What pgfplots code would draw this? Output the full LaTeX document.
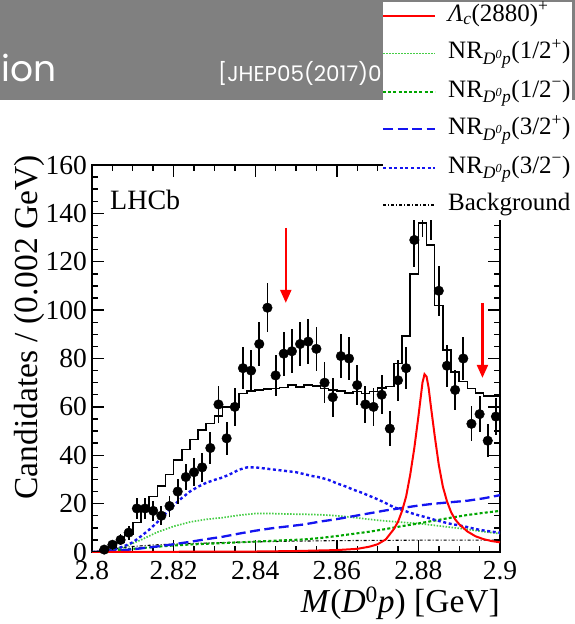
\documentclass[border=0pt]{standalone}
\usepackage{fontspec}
\setmainfont{Liberation Serif}
\newfontfamily\tnr{Liberation Serif}
\newfontfamily\poppins{Poppins}
\usepackage{pgfplots}
\pgfplotsset{compat=1.18}
\usepackage{pgfplotstable}
\usetikzlibrary{arrows.meta}

\definecolor{lgreen}{RGB}{70,205,70}
\definecolor{dgreen}{RGB}{0,165,0}
\definecolor{nblue}{RGB}{20,20,240}
\definecolor{slidegray}{RGB}{128,128,128}

\tikzset{
 lcstyle/.style={red, line width=2pt},
 nrAp/.style={lgreen, line width=1.7pt, dash pattern=on 1.5pt off 1.5pt},
 nrAm/.style={dgreen, line width=2.1pt, dash pattern=on 3pt off 2.2pt},
 nrBp/.style={nblue, line width=2.3pt, dash pattern=on 10pt off 4.5pt},
 nrBm/.style={nblue, line width=2.4pt, dash pattern=on 3pt off 2.6pt},
 bkg/.style={black, line width=1.1pt, dash pattern=on 3pt off 2pt on 1pt off 2pt},
}

% data points: bin centre, candidates, error
\pgfplotstableread{
x y e
2.803 1 1.00
2.805 3 1.73
2.807 5 2.24
2.809 8 2.83
2.811 18 4.24
2.813 18 4.24
2.815 17 4.12
2.817 15 3.87
2.819 19 4.36
2.821 25 5.00
2.823 31 5.57
2.825 33 5.74
2.827 35 5.92
2.829 43 6.56
2.831 61 7.81
2.833 47 6.86
2.835 60 7.75
2.837 76 8.72
2.839 75 8.66
2.841 86 9.27
2.843 101 10.05
2.845 73 8.54
2.847 82 9.06
2.849 83 9.11
2.851 86 9.27
2.853 87 9.33
2.855 84 9.17
2.857 70 8.37
2.859 64 8.00
2.861 81 9.00
2.863 80 8.94
2.865 69 8.31
2.867 61 7.81
2.869 60 7.75
2.871 65 8.06
2.873 51 7.14
2.875 71 8.43
2.877 76 8.72
2.879 129 11.36
2.881 142 11.92
2.883 141 11.87
2.885 108 10.39
2.887 77 8.77
2.889 67 8.19
2.891 80 8.94
2.893 53 7.28
2.895 57 7.55
2.897 46 6.78
2.899 56 7.48
}\datatable

% total fit histogram: bin left edge, value
\pgfplotstableread{
x y
2.800 0.2
2.802 0.8
2.804 2.0
2.806 4.0
2.808 7.5
2.810 12.3
2.812 17.4
2.814 22.9
2.816 27.3
2.818 32.1
2.820 38.0
2.822 42.4
2.824 46.5
2.826 50.4
2.828 53.2
2.830 56.2
2.832 60.0
2.834 60.0
2.836 65.6
2.838 66.5
2.840 67.0
2.842 67.4
2.844 67.6
2.846 68.0
2.848 69.0
2.850 68.2
2.852 69.0
2.854 68.6
2.856 67.6
2.858 67.0
2.860 66.5
2.862 65.8
2.864 66.3
2.866 65.6
2.868 66.4
2.870 67.8
2.872 68.5
2.874 78.0
2.876 89.3
2.878 114.9
2.880 136.0
2.882 127.0
2.884 102.0
2.886 83.5
2.888 74.5
2.890 70.4
2.892 67.6
2.894 65.8
2.896 64.5
2.898 64.5
2.900 64.5
}\histtable

\pgfplotstableread{
x y
2.800 0.0
2.820 0.1
2.840 0.2
2.850 0.4
2.860 0.8
2.865 1.3
2.868 2.2
2.870 3.2
2.872 5.2
2.874 9.5
2.875 12.5
2.876 17.0
2.877 23.0
2.878 32.0
2.879 43.0
2.880 56.0
2.8805 63.0
2.881 70.0
2.8815 73.5
2.882 72.5
2.8825 68.0
2.883 61.0
2.884 48.0
2.885 36.0
2.886 27.0
2.887 21.0
2.888 16.5
2.889 13.5
2.890 11.5
2.892 8.5
2.894 6.5
2.896 5.3
2.898 4.5
2.900 4.0
}\lctable

\pgfplotstableread{
x y
2.800 0
2.802 0.1
2.804 0.5
2.806 1.3
2.808 2.5
2.810 4.0
2.812 6.5
2.814 9.2
2.816 12.3
2.818 15.8
2.820 19.3
2.822 22.3
2.824 25.0
2.826 27.0
2.828 28.6
2.830 29.8
2.832 30.8
2.834 32.3
2.836 34.0
2.838 35.0
2.840 35.0
2.842 34.6
2.844 34.2
2.846 33.8
2.848 33.4
2.850 33.0
2.852 32.2
2.854 31.4
2.856 30.8
2.858 29.8
2.860 28.4
2.862 27.2
2.864 25.8
2.866 24.6
2.868 23.2
2.870 21.8
2.872 20.2
2.874 18.5
2.876 17.4
2.878 16.2
2.880 15.2
2.882 14.3
2.884 13.3
2.886 12.4
2.888 11.6
2.890 11.0
2.892 10.3
2.894 9.5
2.896 8.9
2.898 8.4
2.900 8.0
}\bmtable

\pgfplotstableread{
x y
2.800 0
2.804 0.2
2.808 0.8
2.812 1.5
2.816 2.3
2.820 3.2
2.824 4.2
2.828 5.3
2.832 6.3
2.836 7.6
2.840 8.8
2.844 9.8
2.848 10.6
2.852 11.4
2.856 12.6
2.860 13.6
2.864 14.8
2.868 16.0
2.872 17.2
2.876 18.2
2.880 19.2
2.884 20.0
2.888 20.6
2.892 21.2
2.896 22.2
2.900 23.5
}\bptable

\pgfplotstableread{
x y
2.800 0
2.804 0.4
2.808 2.2
2.812 5.0
2.816 8.2
2.820 10.6
2.824 12.4
2.828 13.5
2.832 14.2
2.836 15.2
2.840 15.9
2.844 15.9
2.848 15.7
2.852 15.6
2.856 15.4
2.860 15.0
2.864 14.3
2.868 13.5
2.872 12.8
2.876 12.3
2.880 11.8
2.884 11.0
2.888 10.2
2.892 9.4
2.896 8.4
2.900 7.6
}\aptable

\pgfplotstableread{
x y
2.800 0
2.804 0.3
2.808 1.0
2.812 1.6
2.816 2.2
2.820 2.7
2.824 3.1
2.828 3.4
2.832 3.7
2.836 4.0
2.840 4.3
2.844 4.6
2.848 4.9
2.852 5.2
2.856 5.8
2.860 6.6
2.864 7.5
2.868 8.4
2.872 9.5
2.876 10.7
2.880 11.8
2.884 13.0
2.888 14.2
2.892 15.3
2.896 16.2
2.900 17.0
}\amtable

\pgfplotstableread{
x y
2.800 0
2.802 0.5
2.806 1.5
2.810 2.3
2.815 2.9
2.820 3.3
2.830 3.8
2.840 4.2
2.850 4.5
2.860 4.7
2.870 4.8
2.880 4.9
2.890 4.9
2.900 4.9
}\bkgtable

\begin{document}
\begin{tikzpicture}
\useasboundingbox (0,0) rectangle (575pt,-624pt);
\fill[slidegray] (0,0) rectangle (575pt,-100pt);
\node[anchor=base west, inner sep=0pt, text=white, font=\poppins\fontsize{36}{36}\selectfont] at (1pt,-81pt) {ion};
\node[anchor=base west, inner sep=0pt, text=white, font=\poppins\fontsize{21.5}{21.5}\selectfont] at (218pt,-81pt) {[JHEP05(2017)0};

\begin{axis}[
  at={(92pt,-552pt)}, anchor=south west,
  scale only axis, width=408pt, height=387pt,
  xmin=2.8, xmax=2.9, ymin=0, ymax=160,
  xtick={2.8,2.82,2.84,2.86,2.88,2.9},
  xticklabels={2.8,2.82,2.84,2.86,2.88,2.9},
  ytick={0,20,40,60,80,100,120,140,160},
  yticklabels={0,20,40,60,80,100,120,140,160},
  minor x tick num=3, minor y tick num=3,
  tick align=inside, tick pos=both,
  major tick length=12pt, minor tick length=6pt,
  every tick/.style={black, line width=1.4pt},
  axis line style={line width=1.6pt},
  /pgf/number format/assume math mode=true,
  xticklabel style={font=\tnr\fontsize{27.5}{27.5}\selectfont, inner sep=0pt, yshift=-9pt},
  yticklabel style={font=\tnr\fontsize{27.5}{27.5}\selectfont, inner sep=0pt, xshift=-5pt},
  clip mode=individual,
]
\addplot[bkg] table {\bkgtable};
\addplot[nrAp] table {\aptable};
\addplot[nrAm] table {\amtable};
\addplot[nrBp] table {\bptable};
\addplot[nrBm] table {\bmtable};
\addplot[lcstyle] table {\lctable};
\addplot[black, line width=1.5pt, const plot mark left, mark=none] table {\histtable};
\addplot[black, only marks, mark=*, mark size=4.8pt,
  error bars/.cd, y dir=both, y explicit,
  error bar style={line width=1.8pt}, error mark=none]
  table[x=x, y=y, y error=e] {\datatable};
\draw[red, line width=2.2pt, -{Triangle[length=13pt,width=11pt]}] (axis cs:2.8475,134) -- (axis cs:2.8475,103);
\draw[red, line width=2.2pt, -{Triangle[length=13pt,width=11pt]}] (axis cs:2.8957,103) -- (axis cs:2.8957,72);
\end{axis}

\node[anchor=base west, inner sep=0pt, font=\tnr\fontsize{28}{28}\selectfont] at (110pt,-209pt) {LHCb};
\node[anchor=base east, inner sep=0pt, font=\tnr\fontsize{33.5}{33.5}\selectfont] at (500pt,-612pt) {\textit{M}(\textit{D}\textsuperscript{0}\textit{p}) [GeV]};
\node[rotate=90, anchor=base east, inner sep=0pt, font=\tnr\fontsize{33.5}{33.5}\selectfont] at (37pt,-155pt) {Candidates / (0.002 GeV)};

% legend box
\fill[white] (383pt,-2pt) rectangle (572pt,-220pt);
\begin{scope}[font=\tnr\fontsize{25}{25}\selectfont]
\draw[lcstyle] (383pt,-15.7pt) -- (435pt,-15.7pt);
\node[anchor=base west, inner sep=0pt] at (448pt,-21pt) {\textit{Λ}\textsubscript{\textit{c}}(2880)\textsuperscript{+}};
\draw[nrAp, line width=1.3pt] (383pt,-53.3pt) -- (435pt,-53.3pt);
\node[anchor=base west, inner sep=0pt] at (448pt,-58.6pt) {NR\textsubscript{\textit{D}\textsuperscript{\textit{0}}\textit{p}}(1/2\textsuperscript{+})};
\draw[nrAm, line width=1.6pt] (383pt,-91.7pt) -- (435pt,-91.7pt);
\node[anchor=base west, inner sep=0pt] at (448pt,-97pt) {NR\textsubscript{\textit{D}\textsuperscript{\textit{0}}\textit{p}}(1/2\textsuperscript{−})};
\draw[nrBp, line width=1.8pt] (383pt,-129pt) -- (435pt,-129pt);
\node[anchor=base west, inner sep=0pt] at (448pt,-134.3pt) {NR\textsubscript{\textit{D}\textsuperscript{\textit{0}}\textit{p}}(3/2\textsuperscript{+})};
\draw[nrBm, line width=1.6pt] (383pt,-167.7pt) -- (435pt,-167.7pt);
\node[anchor=base west, inner sep=0pt] at (448pt,-173pt) {NR\textsubscript{\textit{D}\textsuperscript{\textit{0}}\textit{p}}(3/2\textsuperscript{−})};
\draw[bkg] (383pt,-205pt) -- (435pt,-205pt);
\node[anchor=base west, inner sep=0pt] at (448pt,-210.3pt) {Background};
\end{scope}
\end{tikzpicture}
\end{document}
